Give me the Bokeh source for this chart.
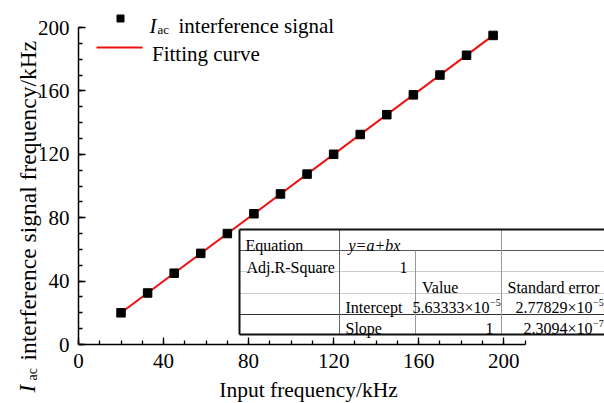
import math
from bokeh.plotting import figure
from bokeh.models import Range1d, SingleIntervalTicker
from bokeh.embed import file_html
from bokeh.resources import INLINE
from bokeh.core.properties import value

# ---- data ----
input_freq = [20, 32.5, 45, 57.5, 70, 82.5, 95, 107.5, 120, 132.5, 145, 157.5, 170, 182.5, 195]
signal_freq = [20, 32.5, 45, 57.5, 70, 82.5, 95, 107.5, 120, 132.5, 145, 157.5, 170, 182.5, 195]
fit_intercept = 5.63333e-5
fit_slope = 1.0
fit_x = [20, 195]
fit_y = [fit_intercept + fit_slope * v for v in fit_x]
x_ticks_interval = 40
y_ticks_interval = 40

FONT = "Liberation Serif"
W, H = 604, 403
# layout: frame covers the whole canvas; axes are fixed at data 0
KX = 2.1262   # px per x unit
KY = 1.585    # px per y unit
X0_PX, Y0_PX = 78, 344   # pixel position of the data origin


def X(px):
    return (px - X0_PX) / KX


def Y(py):
    return (Y0_PX - py) / KY


p = figure(width=W, height=H, output_backend="svg", toolbar_location=None,
           x_range=Range1d(X(0), X(W)), y_range=Range1d(Y(H), Y(0)),
           min_border_left=0, min_border_right=0, min_border_top=0, min_border_bottom=0)
p.outline_line_color = None
p.grid.visible = False
p.background_fill_color = "white"

p.xaxis.fixed_location = 0
p.yaxis.fixed_location = 0
for ax, b, iv in ((p.xaxis[0], (0, 210), x_ticks_interval), (p.yaxis[0], (0, 200), y_ticks_interval)):
    ax.bounds = b
    ax.ticker = SingleIntervalTicker(interval=iv, num_minor_ticks=4)
    ax.axis_line_width = 1.5
    ax.axis_line_color = "black"
    ax.major_tick_in = 7
    ax.major_tick_out = 0
    ax.minor_tick_in = 4
    ax.minor_tick_out = 0
    ax.major_tick_line_width = 1.3
    ax.minor_tick_line_width = 1.3
    ax.major_tick_line_color = "black"
    ax.minor_tick_line_color = "black"
    ax.major_label_text_font = FONT
    ax.major_label_text_font_size = "21px"
    ax.major_label_text_color = "black"
    ax.major_label_standoff = 9

# ---- data marks ----
p.line(fit_x, fit_y, line_color="#ee1111", line_width=2)
p.scatter(input_freq, signal_freq, marker="square", size=8.5, fill_color="black", line_color="black")


def txt(px, py, s, size, align="left", style="normal", angle=0.0):
    p.text(x=[X(px)], y=[Y(py)], text=[s], text_font=value(FONT), text_font_size=size,
           text_font_style=style, text_align=align, text_baseline="alphabetic",
           text_color="black", angle=angle)


# ---- legend (manual) ----
p.scatter([X(120)], [Y(18)], marker="square", size=7, fill_color="black", line_color="black")
p.segment(x0=[X(96)], y0=[Y(47)], x1=[X(142)], y1=[Y(47)], line_color="#ee1111", line_width=2)
txt(149, 25, "I", "21px", style="italic")
txt(157, 29, "ac", "13px")
txt(178, 25, "interference signal", "21px")
txt(151.5, 53, "Fitting curve", "21px")

# ---- fit table ----
cl, c1, c2, c3, cr = X(239), X(339), X(415), X(501), X(640)
rt, r1, r2, r3, r4, rb = Y(229), Y(250), Y(271), Y(293), Y(314), Y(334)
p.quad(left=[cl], right=[cr], top=[rt], bottom=[rb], fill_color="white", line_color=None)
p.segment(x0=[cl] * 4, x1=[cr] * 4, y0=[r1, r2, r3, r4], y1=[r1, r2, r3, r4],
          line_color=["#555555", "#cccccc", "#cccccc", "#333333"], line_width=1)
p.segment(x0=[c1, c2, c3], x1=[c1, c2, c3], y0=[rt, r1, rt], y1=[rb] * 3,
          line_color=["#666666", "#999999", "#999999"], line_width=1)
p.segment(x0=[cl, cl, cl], x1=[cr, cr, cl], y0=[rt, rb, rt], y1=[rt, rb, rb],
          line_color="#111111", line_width=2)

T = "16px"
E = "10px"
txt(245, 245, "Equation", T)
txt(348, 245, "y=a+bx", T, style="italic")
txt(246, 267, "Adj.R-Square", T)
txt(407, 267, "1", T, align="right")
txt(421.5, 287, "Value", T)
txt(507, 287, "Standard error", T)
txt(345, 307, "Intercept", T)
txt(489, 307, "5.63333\u00d710", T, align="right")
txt(489.5, 302, "\u22125", E)
txt(592, 307, "2.77829\u00d710", T, align="right")
txt(592.5, 302, "\u22125", E)
txt(345, 328, "Slope", T)
txt(493, 328, "1", T, align="right")
txt(592, 328, "2.3094\u00d710", T, align="right")
txt(592.5, 323, "\u22127", E)

# ---- axis titles ----
txt(308, 389, "Input frequency/kHz", "21.5px", align="center")
txt(27, 392, "I", "23px", style="italic", angle=math.pi / 2)
txt(32, 380, "ac", "14px", angle=math.pi / 2)
txt(27, 360, "interference signal frequency/kHz", "23.5px", angle=math.pi / 2)

open("out.html", "w").write(file_html(p, INLINE))
